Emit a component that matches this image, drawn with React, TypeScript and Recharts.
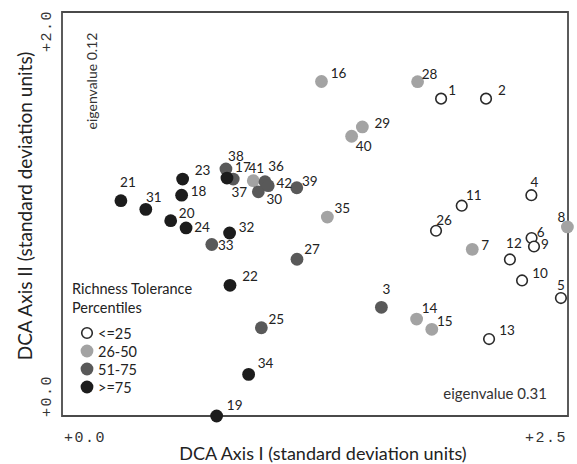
import React from 'react';
import { ScatterChart, Scatter, XAxis, YAxis, ReferenceArea, Legend } from 'recharts';

// Richness tolerance percentile groups (DCA axis I, DCA axis II)
const groupLow = [
  { id: 1, x: 1.873, y: 1.571 },
  { id: 2, x: 2.095, y: 1.571 },
  { id: 4, x: 2.319, y: 1.093 },
  { id: 5, x: 2.465, y: 0.584 },
  { id: 6, x: 2.32, y: 0.881 },
  { id: 9, x: 2.332, y: 0.839 },
  { id: 10, x: 2.273, y: 0.671 },
  { id: 11, x: 1.975, y: 1.041 },
  { id: 12, x: 2.213, y: 0.775 },
  { id: 13, x: 2.11, y: 0.381 },
  { id: 26, x: 1.848, y: 0.917 },
];
const groupMidLow = [
  { id: 7, x: 2.027, y: 0.825 },
  { id: 8, x: 2.497, y: 0.936 },
  { id: 14, x: 1.752, y: 0.48 },
  { id: 15, x: 1.827, y: 0.429 },
  { id: 16, x: 1.282, y: 1.656 },
  { id: 28, x: 1.757, y: 1.655 },
  { id: 29, x: 1.484, y: 1.431 },
  { id: 35, x: 1.311, y: 0.985 },
  { id: 40, x: 1.431, y: 1.385 },
  { id: 41, x: 0.945, y: 1.165 },
];
const groupMidHigh = [
  { id: 3, x: 1.578, y: 0.538 },
  { id: 25, x: 0.985, y: 0.437 },
  { id: 27, x: 1.161, y: 0.776 },
  { id: 30, x: 0.97, y: 1.11 },
  { id: 33, x: 0.74, y: 0.849 },
  { id: 36, x: 1.003, y: 1.16 },
  { id: 37, x: 0.846, y: 1.173 },
  { id: 38, x: 0.81, y: 1.223 },
  { id: 39, x: 1.16, y: 1.13 },
  { id: 42, x: 1.019, y: 1.14 },
];
const groupHigh = [
  { id: 17, x: 0.815, y: 1.178 },
  { id: 18, x: 0.591, y: 1.093 },
  { id: 19, x: 0.764, y: 0.0 },
  { id: 20, x: 0.537, y: 0.967 },
  { id: 21, x: 0.291, y: 1.066 },
  { id: 22, x: 0.83, y: 0.647 },
  { id: 23, x: 0.596, y: 1.173 },
  { id: 24, x: 0.613, y: 0.931 },
  { id: 31, x: 0.414, y: 1.023 },
  { id: 32, x: 0.828, y: 0.906 },
  { id: 34, x: 0.922, y: 0.206 },
];

const xTicks = [0, 2.5];
const yTicks = [0, 2];
const xTickLabels = ['+0.0', '+2.5'];
const yTickLabels = ['+0.0', '+2.0'];
const xTitle = 'DCA Axis I (standard deviation units)';
const yTitle = 'DCA Axis II (standard deviation units)';
const eigenX = 'eigenvalue 0.31';
const eigenY = 'eigenvalue 0.12';
const legendTitle = ['Richness Tolerance', 'Percentiles'];

// label offsets (label centre relative to point centre)
const LABEL_OFFSETS: Record<number, [number, number]> = {
  1: [11, -9], 2: [16, -9], 3: [5, -18], 4: [3, -13], 5: [0, -13], 6: [9, -6],
  7: [13, -4], 8: [-6, -10], 9: [11, -3], 10: [18, -7], 11: [12, -11], 12: [4, -16],
  13: [18, -9], 14: [13, -11], 15: [13, -8], 16: [17, -8], 17: [16, -11], 41: [3, -13],
  36: [11, -16], 38: [10, -13], 37: [6, 13], 30: [16, 7], 42: [16, -3], 39: [13, -7],
  18: [17, -4], 21: [7, -19], 23: [20, -9], 31: [8, -12], 20: [16, -8], 24: [16, -1],
  32: [17, -6], 33: [14, 0], 22: [20, -9], 25: [15, -9], 34: [17, -11], 19: [18, -11],
  26: [8, -11], 27: [15, -10], 29: [20, -4], 40: [12, 10], 35: [15, -9],
};

const SANS = 'Lato, "Open Sans", sans-serif';
const MONO = '"Liberation Mono", "DejaVu Sans Mono", monospace';

const SERIES = [
  { name: '<=25', data: groupLow, fill: '#ffffff', stroke: '#2a2a2a', open: true },
  { name: '26-50', data: groupMidLow, fill: '#a3a3a3', stroke: 'none', open: false },
  { name: '51-75', data: groupMidHigh, fill: '#595959', stroke: 'none', open: false },
  { name: '>=75', data: groupHigh, fill: '#1c1c1c', stroke: 'none', open: false },
];

const makeShape = (fill: string, stroke: string, open: boolean) => (props: any) => {
  const { cx, cy, payload } = props;
  if (cx == null || cy == null) return <g />;
  const off = LABEL_OFFSETS[payload.id] || [12, -8];
  return (
    <g>
      <circle cx={cx} cy={cy} r={open ? 5.3 : 6.4} fill={fill} stroke={stroke} strokeWidth={open ? 1.6 : 0} />
      <text
        x={cx + off[0]}
        y={cy + off[1]}
        textAnchor="middle"
        dominantBaseline="central"
        fontFamily={SANS}
        fontSize={13.5}
        fill="#222"
      >
        {payload.id}
      </text>
    </g>
  );
};

const XTick = (props: any) => {
  const { x, y, payload, index } = props;
  const isFirst = payload.value === xTicks[0];
  return (
    <text
      x={isFirst ? x + 2 : x}
      y={y + 20}
      textAnchor={isFirst ? 'start' : 'end'}
      dominantBaseline="central"
      fontFamily={MONO}
      fontSize={15}
      letterSpacing={1.5}
      fill="#333"
    >
      {xTickLabels[xTicks.indexOf(payload.value)] ?? index}
    </text>
  );
};

const YTick = (props: any) => {
  const { x, y, payload } = props;
  const isFirst = payload.value === yTicks[0];
  const tx = x - 13;
  const ty = isFirst ? y + 1 : y - 2;
  return (
    <text
      x={tx}
      y={ty}
      transform={`rotate(-90, ${tx}, ${ty})`}
      textAnchor={isFirst ? 'start' : 'end'}
      dominantBaseline="central"
      fontFamily={MONO}
      fontSize={15}
      letterSpacing={1.5}
      fill="#333"
    >
      {yTickLabels[yTicks.indexOf(payload.value)]}
    </text>
  );
};

const XTitle = (props: any) => {
  const vb = props.viewBox || { x: 62, y: 416, width: 506, height: 48 };
  return (
    <text
      x={vb.x + vb.width / 2 + 8}
      y={vb.y + 37}
      textAnchor="middle"
      dominantBaseline="central"
      fontFamily={SANS}
      fontSize={18}
      fill="#222"
    >
      {xTitle}
    </text>
  );
};

const YTitle = (props: any) => {
  const vb = props.viewBox || { x: 0, y: 12, width: 62, height: 404 };
  const cx = 24;
  const cy = vb.y + vb.height / 2 - 8;
  return (
    <text
      x={cx}
      y={cy}
      transform={`rotate(-90, ${cx}, ${cy})`}
      textAnchor="middle"
      dominantBaseline="central"
      fontFamily={SANS}
      fontSize={19}
      fill="#222"
    >
      {yTitle}
    </text>
  );
};

const EigenLabels = (props: any) => {
  const vb = props.viewBox;
  if (!vb) return null;
  const ex = vb.x + 29;
  const ey = vb.y + 69;
  return (
    <g>
      <text
        x={ex}
        y={ey}
        transform={`rotate(-90, ${ex}, ${ey})`}
        textAnchor="middle"
        dominantBaseline="central"
        fontFamily={SANS}
        fontSize={14}
        fill="#333"
      >
        {eigenY}
      </text>
      <text
        x={vb.x + vb.width - 21}
        y={vb.y + vb.height - 23}
        textAnchor="end"
        dominantBaseline="central"
        fontFamily={SANS}
        fontSize={15}
        fill="#333"
      >
        {eigenX}
      </text>
    </g>
  );
};

const LegendContent = () => (
  <div style={{ fontFamily: SANS, color: '#222', fontSize: 14.5, lineHeight: '19px' }}>
    <div>{legendTitle[0]}</div>
    <div>{legendTitle[1]}</div>
    <div style={{ height: 7 }} />
    {SERIES.map((s) => (
      <div key={s.name} style={{ display: 'flex', alignItems: 'center', height: 18, fontSize: 14.5 }}>
        <svg width={22} height={16} style={{ display: 'block', marginLeft: 7 }}>
          <circle
            cx={8}
            cy={8}
            r={s.open ? 5.3 : 6.4}
            fill={s.fill}
            stroke={s.stroke}
            strokeWidth={s.open ? 1.6 : 0}
          />
        </svg>
        <span style={{ marginLeft: -3 }}>{s.name}</span>
      </div>
    ))}
  </div>
);

export default function App() {
  return (
    <div style={{ position: 'absolute', left: 0, top: 0, width: 577, height: 464, background: '#fff' }}>
      <ScatterChart width={577} height={464} margin={{ top: 12, right: 9, left: 0, bottom: 0 }}>
        <XAxis
          type="number"
          dataKey="x"
          domain={[0, 2.5]}
          ticks={xTicks}
          height={48}
          axisLine={false}
          tickLine={false}
          tickSize={0}
          tick={<XTick />}
          label={{ content: <XTitle /> } as any}
        />
        <YAxis
          type="number"
          dataKey="y"
          domain={[0, 2]}
          ticks={yTicks}
          width={62}
          axisLine={false}
          tickLine={false}
          tickSize={0}
          tick={<YTick />}
          label={{ content: <YTitle /> } as any}
        />
        <ReferenceArea
          x1={0}
          x2={2.5}
          y1={0}
          y2={2}
          fill="none"
          fillOpacity={0}
          stroke="#4a4a4a"
          strokeWidth={1.8}
          label={{ content: <EigenLabels /> } as any}
        />
        {SERIES.map((s) => (
          <Scatter
            key={s.name}
            name={s.name}
            data={s.data}
            fill={s.fill}
            isAnimationActive={false}
            shape={makeShape(s.fill, s.stroke, s.open)}
          />
        ))}
        <Legend
          layout="vertical"
          align="center"
          verticalAlign="middle"
          wrapperStyle={{ position: 'absolute', left: 72, top: 279, width: 160, height: 130 }}
          content={<LegendContent />}
        />
      </ScatterChart>
    </div>
  );
}
